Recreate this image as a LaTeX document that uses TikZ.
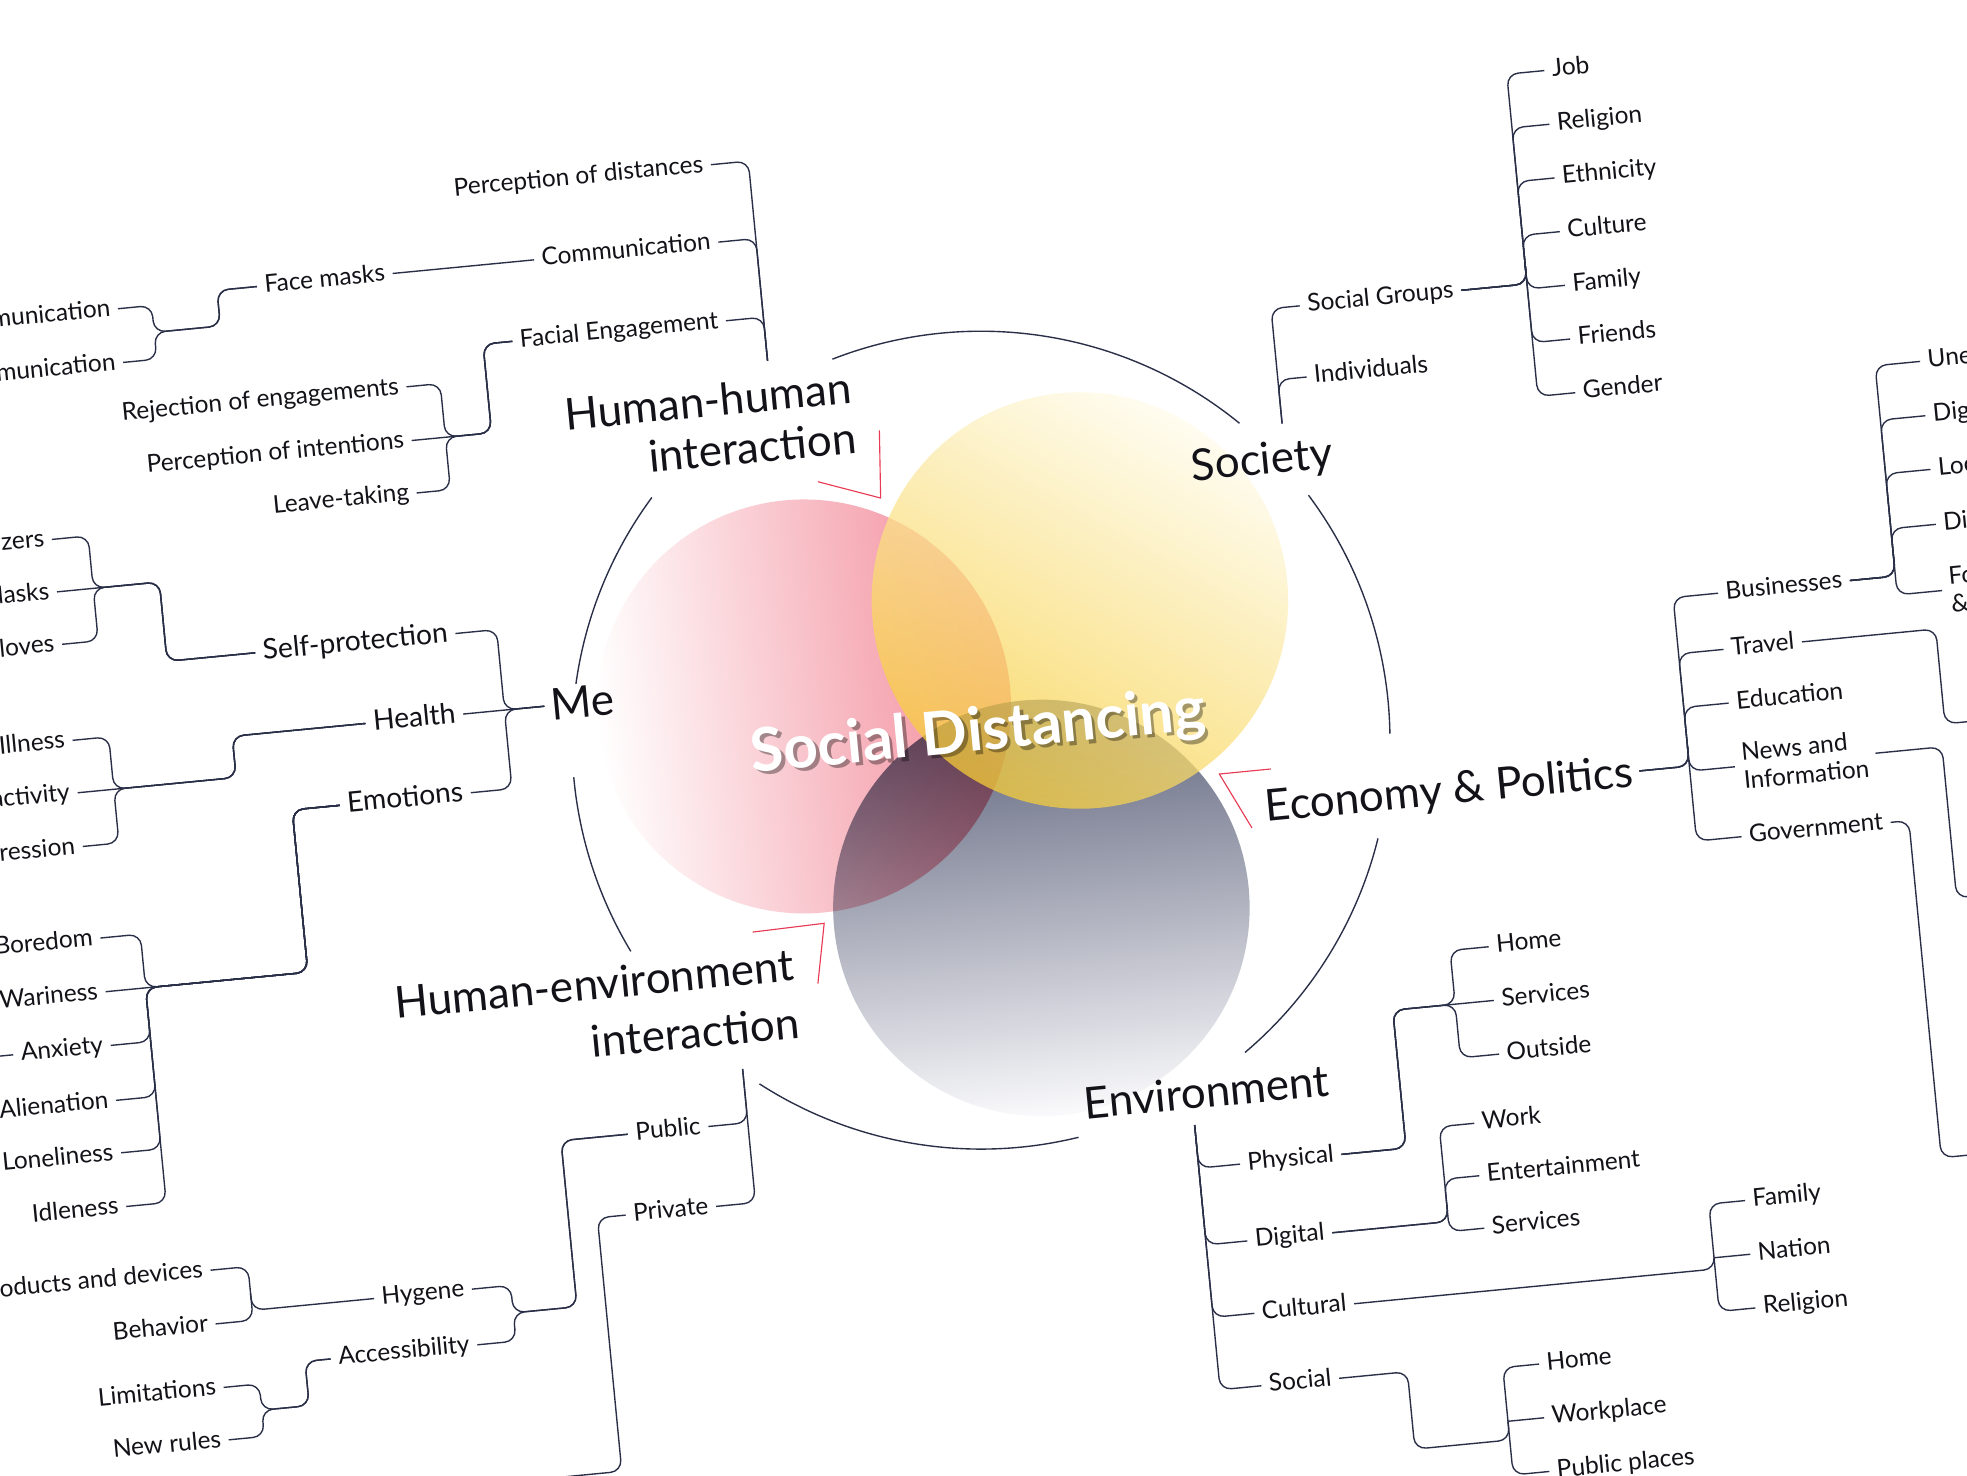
\documentclass[tikz,border=0pt]{standalone}
\usepackage{fontspec}
\setmainfont{Lato}
\definecolor{navy}{RGB}{42,47,72}
\definecolor{ink}{RGB}{18,18,24}
\definecolor{redmk}{RGB}{232,58,82}
\definecolor{pinkR}{RGB}{242,136,151}
\definecolor{yTop}{RGB}{255,252,236}
\definecolor{yBot}{RGB}{247,205,55}
\definecolor{gTop}{RGB}{92,97,122}
\definecolor{gMid}{RGB}{172,175,188}
\definecolor{gBot}{RGB}{250,250,252}
\tikzset{
  conn/.style={draw=navy, line width=1.1pt, rounded corners=9pt},
  ring/.style={draw=navy, line width=1.1pt},
  redline/.style={draw=redmk, line width=0.9pt},
  leaf/.style={font=\fontsize{19.5}{23}\selectfont, text=ink, text height=10.7pt, text depth=0pt, inner xsep=6pt, inner ysep=0pt},
  leafml/.style={font=\fontsize{19.5}{22.5}\selectfont, text=ink, inner xsep=6pt, inner ysep=0pt, align=left},
  midl/.style={font=\fontsize{22.5}{26}\selectfont, text=ink, text height=12.4pt, text depth=0pt, inner xsep=6pt, inner ysep=0pt},
  cat/.style={font=\fontsize{35}{40}\selectfont, text=ink, text height=24pt, text depth=0pt, inner xsep=5pt, inner ysep=0pt},
  cattwo/.style={font=\fontsize{35}{40}\selectfont, text=ink, inner sep=0pt, align=right},
  sdtext/.style={font=\fontsize{48}{50}\selectfont\bfseries, inner sep=0pt},
}
\begin{document}
\begin{tikzpicture}[x=1pt,y=-1pt]
\useasboundingbox (0,0) rectangle (1568,1176);
\fill[white] (0,0) rectangle (1568,1176);
% ---- ring arcs (image coordinates)
\foreach \a/\b in {50.8/111.3, 0.9/36.8, -49.8/-13.9, -122.8/-76.2, 185.2/211.1, 143.6/172.1}
  \draw[ring] ({782+326*cos(\a)},{590-326*sin(\a)}) arc[start angle=-\a, end angle=-\b, radius=326];
% ---- red corner marks
\draw[redline] (652,384) -- (702,397) -- (701,343);
\draw[redline] (1013,613) -- (972,617) -- (998,660);
\draw[redline] (600,743) -- (657,736) -- (652,784);
% ---- rotated design frame
\begin{scope}[transform canvas={rotate=5.5}]
\shade[left color=white, right color=pinkR] (584,622) circle[radius=165];
\begin{scope}[blend mode=multiply]
\shade[top color=gTop, middle color=gMid, bottom color=gBot] (757,800) circle[radius=166];
\end{scope}
\begin{scope}[opacity=0.74]
\shade[top color=yTop, bottom color=yBot, shading angle=-35] (811,559) circle[radius=166];
\end{scope}
\node[sdtext, text=black, opacity=0.35] (sdshadow) at (722.5,660) {Social Distancing};
\node[sdtext, text=white] (sd) at (720,657) {Social Distancing};

% ---------- Human-human interaction
\node[cattwo, anchor=east] (hh) at (646,392) {Human-human\\interaction};
\coordinate (hhroot) at (581.5,345);
\node[leaf, anchor=east] (pod) at (551.5,185) {Perception of distances};
\node[leaf, anchor=east] (comm) at (551.5,247) {Communication};
\node[leaf, anchor=east] (fe) at (551.5,310) {Facial Engagement};
\foreach \n in {pod,comm,fe} \draw[conn] (hhroot) |- (\n.east);
\node[leaf, anchor=east] (fm) at (290.7,247) {Face masks};
\draw[conn] (comm.west) -- (fm.east);
\node[leaf, anchor=east] (vc) at (70,254) {Verbal communication};
\node[leaf, anchor=east] (nvc) at (70,297) {Non-verbal communication};
\foreach \n in {vc,nvc} \draw[conn] (fm.west) -| (150,275.5) -- (97,275.5) |- (\n.east);
\node[leaf, anchor=east] (rej) at (293,338) {Rejection of engagements};
\node[leaf, anchor=east] (poi) at (293,381) {Perception of intentions};
\node[leaf, anchor=east] (lt) at (293,423) {Leave-taking};
\draw[conn] (fe.west) -| (357,381) -- (poi.east);
\foreach \n in {rej,lt} \draw[conn] (fe.west) -| (357,381) -- (320,381) |- (\n.east);

% ---------- Me
\node[cat, anchor=west] (me) at (378,602) {Me};
\node[midl, anchor=east] (sp) at (313,537.5) {Self-protection};
\node[midl, anchor=east] (health) at (313,602) {Health};
\node[midl, anchor=east] (emo) at (313,665) {Emotions};
\draw[conn] (me.west) -- (health.east);
\foreach \n in {sp,emo} \draw[conn] (me.west) -- (346,602) |- (\n.east);
\node[leaf, anchor=east] (san) at (0,432) {Sanitizers};
\node[leaf, anchor=east] (masks) at (0,474) {Masks};
\node[leaf, anchor=east] (gloves) at (0,516) {Gloves};
\draw[conn] (sp.west) -| (82,474) -- (masks.east);
\foreach \n in {san,gloves} \draw[conn] (sp.west) -| (82,474) -- (29,474) |- (\n.east);
\node[leaf, anchor=east] (ill) at (1,593) {Illness};
\node[leaf, anchor=east] (inact) at (1,635) {Inactivity};
\node[leaf, anchor=east] (dep) at (1,678) {Depression};
\draw[conn] (health.west) -| (128,635) -- (inact.east);
\foreach \n in {ill,dep} \draw[conn] (health.west) -| (128,635) -- (30,635) |- (\n.east);
\node[leaf, anchor=east] (bor) at (8,752) {Boredom};
\node[leaf, anchor=east] (war) at (8,795) {Wariness};
\node[leaf, anchor=east] (anx) at (8,838) {Anxiety};
\node[leaf, anchor=east] (ali) at (8,882) {Alienation};
\node[leaf, anchor=east] (lon) at (8,924) {Loneliness};
\node[leaf, anchor=east] (idl) at (8,967) {Idleness};
\draw[conn] (emo.west) -| (170,795) -- (war.east);
\foreach \n in {bor,anx,ali,lon,idl} \draw[conn] (emo.west) -| (170,795) -- (40,795) |- (\n.east);
\draw[conn] (anx.west) -- ++(-60pt,0pt);

% ---------- Human-environment interaction
\node[cattwo, anchor=east, font=\fontsize{35}{46}\selectfont] (he) at (556,849) {Human-environment\\interaction};
\coordinate (heroot) at (507.6,905);
\node[leaf, anchor=east] (pub) at (476,948) {Public};
\node[leaf, anchor=east] (priv) at (476,1012) {Private};
\foreach \n in {pub,priv} \draw[conn] (heroot) |- (\n.east);
\node[leaf, anchor=east] (hyg) at (276,1059) {Hygene};
\node[leaf, anchor=east] (acc) at (276,1103.6) {Accessibility};
\foreach \n in {hyg,acc} \draw[conn] (pub.west) -| (358,1081) -- (307,1081) |- (\n.east);
\node[leaf, anchor=east] (prod) at (70,1024) {Products and devices};
\node[leaf, anchor=east] (beh) at (70,1067) {Behavior};
\draw[conn] (hyg.west) -| ([xshift=30pt]prod.east) -- (prod.east);
\draw[conn] (100,1045.5) |- (beh.east);
\node[leaf, anchor=east] (lim) at (71.5,1118) {Limitations};
\node[leaf, anchor=east] (nr) at (71.5,1160) {New rules};
\foreach \n in {lim,nr} \draw[conn] (acc.west) -| (138,1139) -- (100,1139) |- (\n.east);
\draw[conn] (priv.west) -| (381,1215) -- (330,1215);

% ---------- Society
\node[cat] (soc) at (966,461) {Society};
\coordinate (socroot) at (985,434);
\node[leaf, anchor=west] (sg) at (1008,342) {Social Groups};
\node[leaf, anchor=west] (ind) at (1008,399) {Individuals};
\foreach \n in {sg,ind} \draw[conn] (socroot) |- (\n.west);
\node[leaf, anchor=west] (job) at (1220,174) {Job};
\node[leaf, anchor=west] (rel1) at (1220,217) {Religion};
\node[leaf, anchor=west] (eth) at (1220,260) {Ethnicity};
\node[leaf, anchor=west] (cul) at (1220,303) {Culture};
\node[leaf, anchor=west] (fam1) at (1220,346) {Family};
\node[leaf, anchor=west] (fri) at (1220,389) {Friends};
\node[leaf, anchor=west] (gen) at (1220,432) {Gender};
\foreach \n in {job,rel1,eth,cul} \draw[conn] (sg.east) -| ([xshift=-30pt]\n.west) -- (\n.west);
\foreach \n in {fam1,fri,gen} \draw[conn] (1190,326) |- (\n.west);

% ---------- Economy & Politics
\node[cat, anchor=east] (ep) at (1242,737) {Economy \& Politics};
\node[leaf, anchor=west] (bus) at (1318,602) {Businesses};
\node[leaf, anchor=west] (trav) at (1318,647) {Travel};
\node[leaf, anchor=west] (edu) at (1318,690) {Education};
\node[leafml, anchor=west] (news) at (1318,741) {News and\\Information};
\node[leaf, anchor=west] (gov) at (1318,797) {Government};
\foreach \n in {bus,trav,edu} \draw[conn] (ep.east) -| ([xshift=-36pt]\n.west) -- (\n.west);
\foreach \n in {news,gov} \draw[conn] (1282,721) |- (\n.west);
\node[leaf, anchor=west] (une) at (1496,433.5) {Unemployment};
\node[leaf, anchor=west] (digi) at (1496,477) {Digitalization};
\node[leaf, anchor=west] (loc) at (1496,520) {Local shops};
\node[leaf, anchor=west] (dis) at (1496,564) {Distribution};
\node[leafml, anchor=west] (food) at (1496,617) {Food\\\& drinks};
\foreach \n in {une,digi,loc,dis} \draw[conn] (bus.east) -| ([xshift=-36pt]\n.west) -- (\n.west);
\draw[conn] (1460,588) |- (food.west);
\draw[conn] (trav.east) -| (1488,723) -- (1640,723);
\draw[conn] (news.east) -| (1484,862) -- (1640,862);
\draw[conn] (gov.east) -| (1452,1067) -- (1640,1067);

% ---------- Environment
\node[cat] (env) at (874,959) {Environment};
\coordinate (envroot) at (862,984);
\node[leaf, anchor=west] (phys) at (895,1018.5) {Physical};
\node[leaf, anchor=west] (digt) at (895,1080) {Digital};
\node[leaf, anchor=west] (cult) at (895,1138) {Cultural};
\node[leaf, anchor=west] (socl) at (895,1196) {Social};
\foreach \n in {phys,digt,cult,socl} \draw[conn] (envroot) |- (\n.west);
\node[leaf, anchor=west] (home1) at (1109,865) {Home};
\node[leaf, anchor=west] (serv1) at (1109,908) {Services};
\node[leaf, anchor=west] (out) at (1109,951) {Outside};
\draw[conn] (phys.east) -| (1028,908) -- (serv1.west);
\foreach \n in {home1,out} \draw[conn] (phys.east) -| (1028,908) -- (1078,908) |- (\n.west);
\node[leaf, anchor=west] (work) at (1084,1004) {Work};
\node[leaf, anchor=west] (ent) at (1084,1046) {Entertainment};
\node[leaf, anchor=west] (serv2) at (1084,1088) {Services};
\foreach \n in {work,ent} \draw[conn] (digt.east) -| ([xshift=-28pt]\n.west) -- (\n.west);
\draw[conn] (1056,1066) |- (serv2.west);
\node[leaf, anchor=west] (fam2) at (1293,1086) {Family};
\node[leaf, anchor=west] (nat) at (1293,1129) {Nation};
\node[leaf, anchor=west] (rel2) at (1293,1172) {Religion};
\draw[conn] (cult.east) -| (1264,1129);
\draw[conn] (1264,1129) -- (nat.west);
\foreach \n in {fam2,rel2} \draw[conn] (1264,1129) |- (\n.west);
\node[leaf, anchor=west] (home2) at (1117,1200) {Home};
\node[leaf, anchor=west] (wp) at (1117,1243) {Workplace};
\node[leaf, anchor=west] (pp) at (1117,1286) {Public places};
\draw[conn] (socl.east) -| (1012,1258) -| (1088,1243);
\draw[conn] (1088,1243) -- (wp.west);
\foreach \n in {home2,pp} \draw[conn] (1088,1243) |- (\n.west);
\end{scope}
\end{tikzpicture}
\end{document}
